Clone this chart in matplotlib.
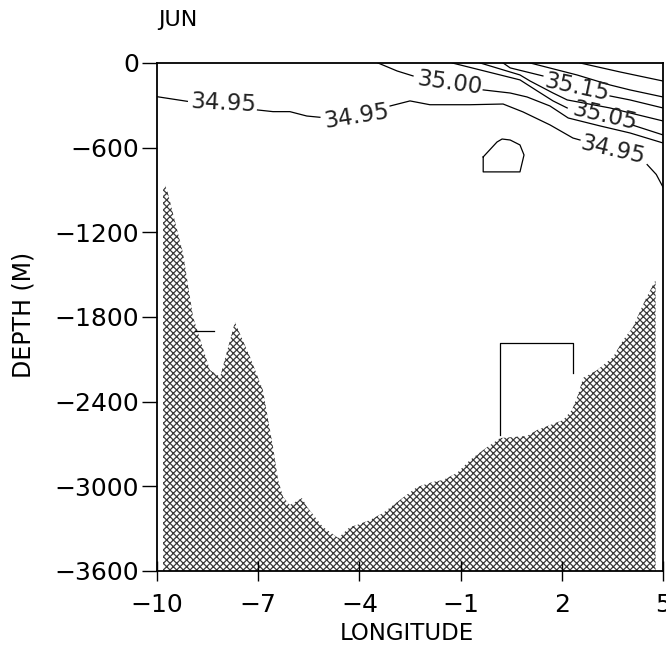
import matplotlib.pyplot as plt

plt.rcParams['font.family'] = 'DejaVu Sans'
plt.rcParams['hatch.linewidth'] = 0.9
plt.rcParams['hatch.color'] = '#3a3a3a'

# bottom topography along the section (longitude, depth in m)
bottom_lon = [-9.82, -9.76, -9.70, -9.23, -8.93, -8.43, -8.13, -7.69, -7.24, -6.86,
              -6.56, -6.41, -6.26, -6.06, -5.70, -5.55, -5.08, -4.63, -4.28, -4.07,
              -3.69, -3.30, -2.80, -2.29, -1.82, -1.52, -1.11, -0.72, -0.33, 0.17,
              0.97, 1.27, 1.65, 2.04, 2.30, 2.48, 2.63, 3.05, 3.52, 3.82,
              4.11, 4.47, 4.78]
bottom_depth = [-900, -870, -900, -1346, -1800, -2176, -2225, -1836, -2084, -2318,
                -2721, -2955, -3076, -3132, -3083, -3147, -3288, -3366, -3288, -3274,
                -3239, -3189, -3097, -3005, -2969, -2955, -2906, -2813, -2743, -2658,
                -2643, -2601, -2566, -2530, -2459, -2353, -2232, -2176, -2084, -1963,
                -1871, -1680, -1538]

# salinity isolines, split into pieces where the labels sit
iso_3495 = [
    ([-10.0, -9.1], [-239, -272]),
    ([-7.02, -6.56, -6.06, -5.56, -5.17], [-333, -345, -345, -376, -385]),
    ([-3.09, -2.50, -1.91, -0.72, 0.26, 0.85, 1.65, 2.33, 2.54],
     [-305, -269, -296, -296, -291, -347, -439, -532, -546]),
    ([4.53, 4.80, 5.0], [-720, -790, -880]),
    ([-0.33, 0.08, 0.23, 0.47, 0.76, 0.88, 0.76, -0.33, -0.33],
     [-666, -560, -539, -546, -581, -652, -772, -772, -666]),
]
iso_3500 = [
    ([-3.45, -2.88, -2.41], [0, -57, -92]),
    ([-0.33, 0.47, 0.97, 1.65, 2.19, 3.13, 4.02, 5.0],
     [-191, -213, -241, -305, -390, -446, -496, -567]),
]
iso_3505 = [
    ([-1.25, 0.76, 1.27, 1.74, 2.16], [0, -120, -198, -269, -319]),
    ([4.08, 5.0], [-439, -510]),
]
iso_3510 = [
    ([-0.42, 0.76, 1.06, 1.74, 2.16, 3.43, 4.02, 5.0],
     [0, -85, -128, -213, -262, -319, -354, -411]),
]
iso_3515 = [
    ([0.26, 0.47, 1.44], [0, -35, -92]),
    ([3.43, 4.02, 5.0], [-234, -262, -319]),
]
iso_3520 = [
    ([1.06, 2.45, 3.43, 4.02, 5.0], [0, -85, -156, -191, -241]),
]
iso_3525 = [
    ([2.54, 3.73, 5.0], [0, -64, -128]),
]
# isoline pieces cut off by the bottom
iso_deep = [
    ([0.17, 0.17, 2.33, 2.33], [-2636, -1984, -1984, -2197]),
    ([-8.87, -8.31], [-1899, -1899]),
]

label_text = ['34.95', '34.95', '35.00', '35.15', '35.05', '34.95']
label_lon = [-8.04, -4.07, -1.31, 2.45, 3.28, 3.52]
label_depth = [-283, -376, -142, -177, -376, -617]
label_angle = [-3, 9, -8, -12, -13, -13]

lon_ticks = [-10, -7, -4, -1, 2, 5]
depth_ticks = [0, -600, -1200, -1800, -2400, -3000, -3600]

fig = plt.figure(figsize=(6.66, 6.47), dpi=100)
ax = fig.add_axes([0.2357, 0.1175, 0.7598, 0.7852])

ax.fill_between(bottom_lon, bottom_depth, -3600, facecolor='white',
                edgecolor='#3a3a3a', hatch='xxxxx', linewidth=0)

for iso in [iso_3495, iso_3500, iso_3505, iso_3510, iso_3515, iso_3520, iso_3525, iso_deep]:
    for xs, ys in iso:
        ax.plot(xs, ys, color='black', linewidth=0.9)

for txt, x, y, ang in zip(label_text, label_lon, label_depth, label_angle):
    ax.text(x, y, txt, fontsize=16.5, color='#222222', rotation=ang,
            ha='center', va='center', rotation_mode='anchor')

ax.set_xlim(-10, 5)
ax.set_ylim(-3600, 0)
ax.set_xticks(lon_ticks)
ax.set_yticks(depth_ticks)
ax.tick_params(axis='x', direction='inout', length=15, width=1.0, pad=8, labelsize=18)
ax.tick_params(axis='y', direction='out', length=11, width=1.0, pad=2, labelsize=18)
for sp in ax.spines.values():
    sp.set_linewidth(1.3)

fig.text(158 / 666, 1 - 20 / 647, 'JUN', fontsize=16, ha='left', va='center')
fig.text(23 / 666, 1 - 315 / 647, 'DEPTH (M)', fontsize=17, rotation=90,
         ha='center', va='center')
fig.text(407 / 666, 1 - 634 / 647, 'LONGITUDE', fontsize=16.5, ha='center', va='center')

fig.savefig('out.png', dpi=100)
